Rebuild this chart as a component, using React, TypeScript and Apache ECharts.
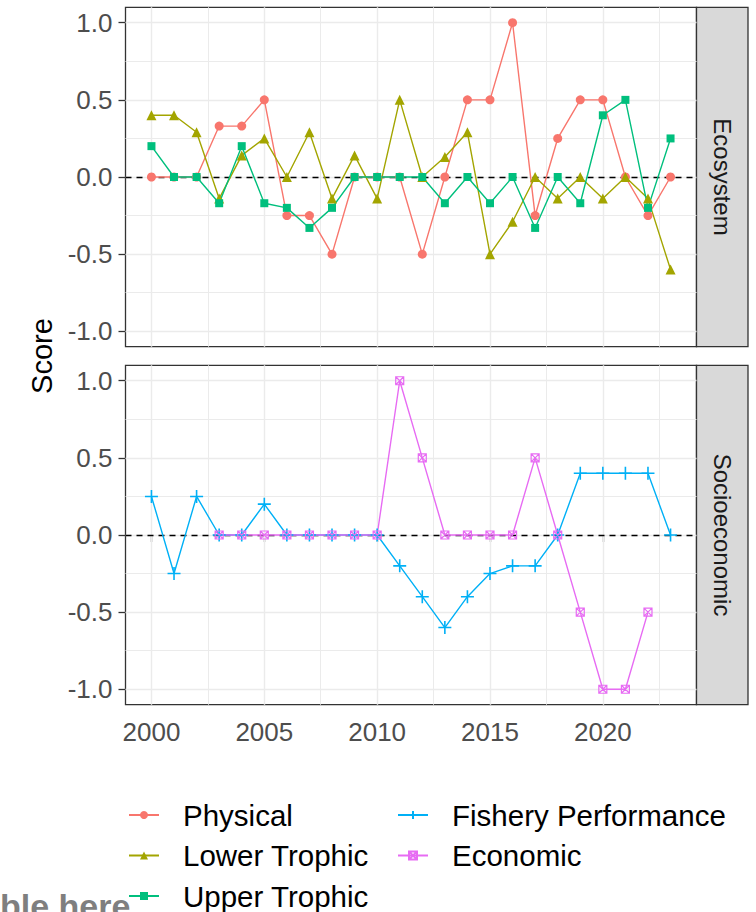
import React, { useEffect, useRef } from 'react';
import * as echarts from 'echarts';

// ---- data ----
const years = [2000, 2001, 2002, 2003, 2004, 2005, 2006, 2007, 2008, 2009, 2010, 2011, 2012, 2013, 2014, 2015, 2016, 2017, 2018, 2019, 2020, 2021, 2022, 2023];
const physical = [0, 0, 0, 0.33, 0.33, 0.5, -0.25, -0.25, -0.5, 0, 0, 0, -0.5, 0, 0.5, 0.5, 1, -0.25, 0.25, 0.5, 0.5, 0, -0.25, 0];
const lowerTrophic = [0.4, 0.4, 0.29, -0.14, 0.14, 0.25, 0, 0.29, -0.14, 0.14, -0.14, 0.5, 0, 0.13, 0.29, -0.5, -0.29, 0, -0.14, 0, -0.14, 0, -0.14, -0.6];
const upperTrophic = [0.2, 0, 0, -0.17, 0.2, -0.17, -0.2, -0.33, -0.2, 0, 0, 0, 0, -0.17, 0, -0.17, 0, -0.33, 0, -0.17, 0.4, 0.5, -0.2, 0.25];
const fisheryPerformance = [0.25, -0.25, 0.25, 0, 0, 0.2, 0, 0, 0, 0, 0, -0.2, -0.4, -0.6, -0.4, -0.25, -0.2, -0.2, 0, 0.4, 0.4, 0.4, 0.4, 0];
const economic: (number | null)[] = [null, null, null, 0, 0, 0, 0, 0, 0, 0, 0, 1, 0.5, 0, 0, 0, 0, 0.5, 0, -0.5, -1, -1, -0.5, null];

const panels = ['Ecosystem', 'Socioeconomic'];
const legendCol1 = ['Physical', 'Lower Trophic', 'Upper Trophic'];
const legendCol2 = ['Fishery Performance', 'Economic'];

const xMajor = [2000, 2005, 2010, 2015, 2020];
const xMinor = [2002.5, 2007.5, 2012.5, 2017.5, 2022.5];
const yMajor = [-1, -0.5, 0, 0.5, 1];
const yMinor = [-0.75, -0.25, 0.25, 0.75];

const FONT = '"Liberation Sans", Arial, Helvetica, sans-serif';
const GRID_LEFT = 125.5;
const GRID_W = 571;
const GRID_H = 339.4;
const GRID_TOPS = [7.3, 365.3];
const STRIP_W = 51.5;

const PLUS = 'path://M5,0L5,10M0,5L10,5';
const SQCROSS = 'path://M0,0L10,0L10,10L0,10ZM0,0L10,10M10,0L0,10';

function pairs(arr: (number | null)[]) {
  return years.map((y, i) => [y, arr[i]]).filter((d) => d[1] !== null);
}

function gridSeries(gi: number) {
  const minorStyle = { color: '#EBEBEB', width: 1.0, type: 'solid' };
  const majorStyle = { color: '#EBEBEB', width: 1.4, type: 'solid' };
  return {
    type: 'line',
    xAxisIndex: gi,
    yAxisIndex: gi,
    data: [],
    z: 1,
    silent: true,
    markLine: {
      z: 1,
      silent: true,
      symbol: ['none', 'none'],
      label: { show: false },
      emphasis: { disabled: true },
      animation: false,
      data: [
        ...yMinor.map((v) => ({ yAxis: v, lineStyle: minorStyle })),
        ...xMinor.map((v) => ({ xAxis: v, lineStyle: minorStyle })),
        ...yMajor.map((v) => ({ yAxis: v, lineStyle: majorStyle })),
        ...xMajor.map((v) => ({ xAxis: v, lineStyle: majorStyle })),
      ],
    },
  };
}

function zeroSeries(gi: number) {
  return {
    type: 'line',
    xAxisIndex: gi,
    yAxisIndex: gi,
    data: [],
    z: 2,
    silent: true,
    markLine: {
      z: 2,
      silent: true,
      symbol: ['none', 'none'],
      label: { show: false },
      emphasis: { disabled: true },
      animation: false,
      data: [{ yAxis: 0, lineStyle: { color: '#000', width: 1.3, type: [6, 5] } }],
    },
  };
}

function dataSeries(name: string, arr: (number | null)[], gi: number, color: string, symbol: string, size: number, item: any) {
  return {
    name,
    type: 'line',
    xAxisIndex: gi,
    yAxisIndex: gi,
    z: 3,
    data: pairs(arr),
    symbol,
    symbolSize: size,
    showSymbol: true,
    lineStyle: { color, width: 1.4 },
    itemStyle: { color, ...item },
    emphasis: { disabled: true },
  };
}

export default function App() {
  const ref = useRef<HTMLDivElement>(null);
  useEffect(() => {
    document.body.style.margin = '0';
    const chart = echarts.init(ref.current!, null, { renderer: 'svg' });
    const xAxes = [0, 1].map((gi) => ({
      gridIndex: gi,
      type: 'value',
      min: 1998.85,
      max: 2024.15,
      axisLine: { show: false },
      splitLine: { show: false },
      axisTick: gi === 1 ? { show: true, customValues: xMajor, length: 7, lineStyle: { color: '#333', width: 1.3 } } : { show: false },
      axisLabel: gi === 1
        ? { show: true, customValues: xMajor, fontSize: 26, color: '#4D4D4D', margin: 14, fontFamily: FONT, formatter: (v: number) => String(Math.round(v)) }
        : { show: false },
    }));
    const yAxes = [0, 1].map((gi) => ({
      gridIndex: gi,
      type: 'value',
      min: -1.1,
      max: 1.1,
      axisLine: { show: false },
      splitLine: { show: false },
      axisTick: { show: true, customValues: yMajor, length: 7, lineStyle: { color: '#333', width: 1.3 } },
      axisLabel: { show: true, customValues: yMajor, fontSize: 26, color: '#4D4D4D', margin: 13, fontFamily: FONT, formatter: (v: number) => v.toFixed(1) },
    }));
    const legendBase = {
      orient: 'vertical',
      top: 800,
      height: 160,
      padding: 0,
      itemWidth: 30,
      itemHeight: 10,
      itemGap: 10.5,
      selectedMode: false,
      textStyle: { fontSize: 29.5, lineHeight: 30, color: '#000', fontFamily: FONT, padding: [0, 0, 0, 19] },
    };
    const graphics: any[] = [];
    panels.forEach((p, gi) => {
      graphics.push({
        type: 'rect',
        shape: { x: GRID_LEFT + GRID_W, y: GRID_TOPS[gi], width: STRIP_W, height: GRID_H },
        style: { fill: '#D9D9D9', stroke: '#333', lineWidth: 1.3 },
      });
      graphics.push({
        type: 'text',
        x: GRID_LEFT + GRID_W + STRIP_W / 2,
        y: GRID_TOPS[gi] + GRID_H / 2,
        rotation: -Math.PI / 2,
        style: { text: p, fontSize: 24, fontFamily: FONT, fill: '#1A1A1A', align: 'center', verticalAlign: 'middle' },
      });
    });
    graphics.push({
      type: 'text',
      x: 42,
      y: (GRID_TOPS[0] + GRID_TOPS[1] + GRID_H) / 2,
      rotation: Math.PI / 2,
      style: { text: 'Score', fontSize: 29, fontFamily: FONT, fill: '#000', align: 'center', verticalAlign: 'middle' },
    });
    graphics.push({
      type: 'text',
      x: 0,
      y: 906,
      style: { text: 'ble here', fontSize: 34, fontWeight: 'bold', fontFamily: FONT, fill: '#7F7F7F', align: 'left', verticalAlign: 'middle' },
    });

    chart.setOption({
      animation: false,
      backgroundColor: '#fff',
      grid: GRID_TOPS.map((t) => ({
        left: GRID_LEFT,
        top: t,
        width: GRID_W,
        height: GRID_H,
        show: true,
        backgroundColor: '#fff',
        borderColor: '#333',
        borderWidth: 1.3,
        containLabel: false,
      })),
      xAxis: xAxes,
      yAxis: yAxes,
      legend: [
        { ...legendBase, left: 128, data: legendCol1 },
        { ...legendBase, left: 397, data: legendCol2 },
      ],
      graphic: graphics,
      series: [
        gridSeries(0),
        gridSeries(1),
        zeroSeries(0),
        zeroSeries(1),
        dataSeries('Physical', physical, 0, '#F8766D', 'circle', 9, {}),
        dataSeries('Lower Trophic', lowerTrophic, 0, '#A3A500', 'triangle', 10, {}),
        dataSeries('Upper Trophic', upperTrophic, 0, '#00BF7D', 'rect', 8, {}),
        dataSeries('Fishery Performance', fisheryPerformance, 1, '#00B0F6', PLUS, 13, { borderColor: '#00B0F6', borderWidth: 1.6 }),
        dataSeries('Economic', economic, 1, '#E76BF3', SQCROSS, 8, { color: 'rgba(0,0,0,0)', borderColor: '#E76BF3', borderWidth: 1.2 }),
      ],
    });
    return () => chart.dispose();
  }, []);
  return <div ref={ref} style={{ width: 756, height: 912 }} />;
}
